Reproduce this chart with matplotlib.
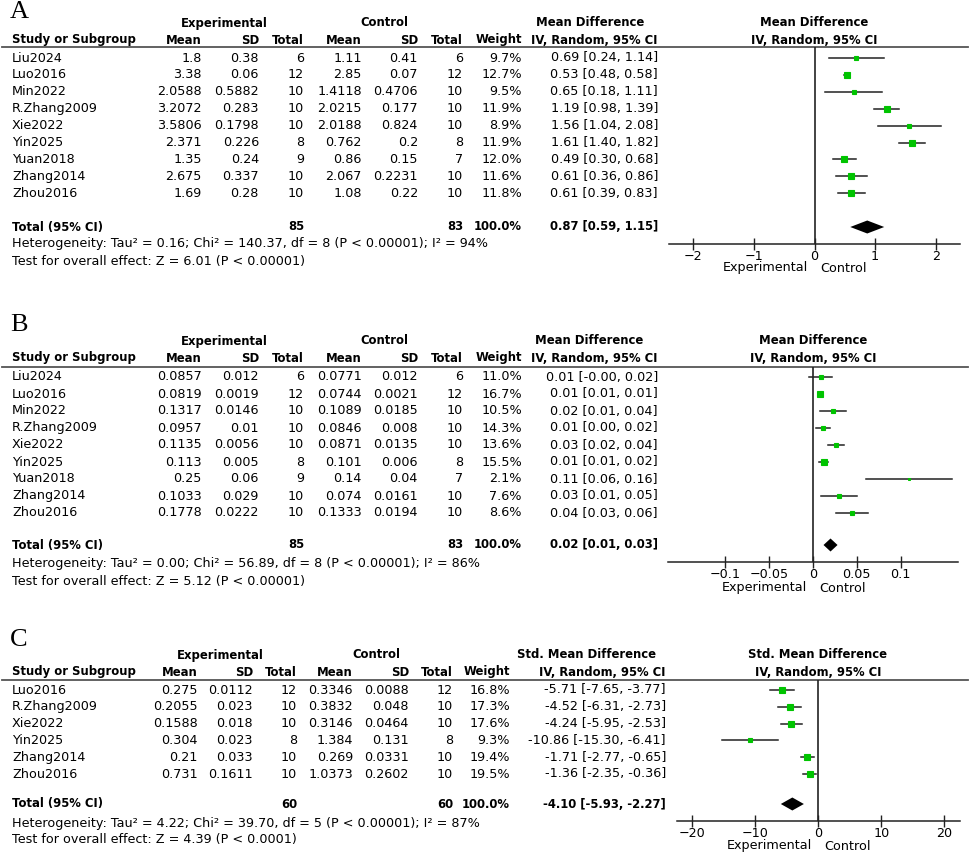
import matplotlib
matplotlib.use("Agg")
import matplotlib.pyplot as plt

# ---- data: panel A ----
a_study = ["Liu2024", "Luo2016", "Min2022", "R.Zhang2009", "Xie2022", "Yin2025", "Yuan2018", "Zhang2014", "Zhou2016"]
a_exp_mean = [1.8, 3.38, 2.0588, 3.2072, 3.5806, 2.371, 1.35, 2.675, 1.69]
a_exp_sd = [0.38, 0.06, 0.5882, 0.283, 0.1798, 0.226, 0.24, 0.337, 0.28]
a_exp_n = [6, 12, 10, 10, 10, 8, 9, 10, 10]
a_ctl_mean = [1.11, 2.85, 1.4118, 2.0215, 2.0188, 0.762, 0.86, 2.067, 1.08]
a_ctl_sd = [0.41, 0.07, 0.4706, 0.177, 0.824, 0.2, 0.15, 0.2231, 0.22]
a_ctl_n = [6, 12, 10, 10, 10, 8, 7, 10, 10]
a_weight = [9.7, 12.7, 9.5, 11.9, 8.9, 11.9, 12.0, 11.6, 11.8]
a_est = [0.69, 0.53, 0.65, 1.19, 1.56, 1.61, 0.49, 0.61, 0.61]
a_lo = [0.24, 0.48, 0.18, 0.98, 1.04, 1.40, 0.30, 0.36, 0.39]
a_hi = [1.14, 0.58, 1.11, 1.39, 2.08, 1.82, 0.68, 0.86, 0.83]
a_total = (85, 83, 0.87, 0.59, 1.15)
a_het = "Heterogeneity: Tau² = 0.16; Chi² = 140.37, df = 8 (P < 0.00001); I² = 94%"
a_test = "Test for overall effect: Z = 6.01 (P < 0.00001)"
a_ticks = [-2, -1, 0, 1, 2]
a_ticklabels = ["\u22122", "\u22121", "0", "1", "2"]

# ---- data: panel B ----
b_study = a_study
b_exp_mean = [0.0857, 0.0819, 0.1317, 0.0957, 0.1135, 0.113, 0.25, 0.1033, 0.1778]
b_exp_sd = [0.012, 0.0019, 0.0146, 0.01, 0.0056, 0.005, 0.06, 0.029, 0.0222]
b_exp_n = [6, 12, 10, 10, 10, 8, 9, 10, 10]
b_ctl_mean = [0.0771, 0.0744, 0.1089, 0.0846, 0.0871, 0.101, 0.14, 0.074, 0.1333]
b_ctl_sd = [0.012, 0.0021, 0.0185, 0.008, 0.0135, 0.006, 0.04, 0.0161, 0.0194]
b_ctl_n = [6, 12, 10, 10, 10, 8, 7, 10, 10]
b_weight = [11.0, 16.7, 10.5, 14.3, 13.6, 15.5, 2.1, 7.6, 8.6]
b_est = [0.0086, 0.0075, 0.0228, 0.0111, 0.0264, 0.012, 0.11, 0.0293, 0.0445]
b_lo = [-0.0049, 0.0059, 0.0082, 0.0032, 0.0173, 0.0066, 0.0609, 0.0087, 0.0262]
b_hi = [0.0222, 0.0091, 0.0374, 0.0190, 0.0355, 0.0174, 0.1591, 0.0499, 0.0628]
b_total = (85, 83, 0.020, 0.012, 0.028)
b_total_txt = "0.02 [0.01, 0.03]"
b_het = "Heterogeneity: Tau² = 0.00; Chi² = 56.89, df = 8 (P < 0.00001); I² = 86%"
b_test = "Test for overall effect: Z = 5.12 (P < 0.00001)"
b_ticks = [-0.1, -0.05, 0, 0.05, 0.1]
b_ticklabels = ["\u22120.1", "\u22120.05", "0", "0.05", "0.1"]

# ---- data: panel C ----
c_study = ["Luo2016", "R.Zhang2009", "Xie2022", "Yin2025", "Zhang2014", "Zhou2016"]
c_exp_mean = [0.275, 0.2055, 0.1588, 0.304, 0.21, 0.731]
c_exp_sd = [0.0112, 0.023, 0.018, 0.023, 0.033, 0.1611]
c_exp_n = [12, 10, 10, 8, 10, 10]
c_ctl_mean = [0.3346, 0.3832, 0.3146, 1.384, 0.269, 1.0373]
c_ctl_sd = [0.0088, 0.048, 0.0464, 0.131, 0.0331, 0.2602]
c_ctl_n = [12, 10, 10, 8, 10, 10]
c_weight = [16.8, 17.3, 17.6, 9.3, 19.4, 19.5]
c_est = [-5.71, -4.52, -4.24, -10.86, -1.71, -1.36]
c_lo = [-7.65, -6.31, -5.95, -15.30, -2.77, -2.35]
c_hi = [-3.77, -2.73, -2.53, -6.41, -0.65, -0.36]
c_total = (60, 60, -4.10, -5.93, -2.27)
c_het = "Heterogeneity: Tau² = 4.22; Chi² = 39.70, df = 5 (P < 0.00001); I² = 87%"
c_test = "Test for overall effect: Z = 4.39 (P < 0.0001)"
c_ticks = [-20, -10, 0, 10, 20]
c_ticklabels = ["\u221220", "\u221210", "0", "10", "20"]

FS = 9.2      # regular text
FSB = 8.4     # bold text
GREEN = "#00c400"
W, H = 969, 858

fig = plt.figure(figsize=(W / 100, H / 100), dpi=100)
bg = fig.add_axes([0, 0, 1, 1])
bg.set_xlim(0, W)
bg.set_ylim(H, 0)
bg.axis("off")


def txt(x, y, s, ha="left", bold=False):
    bg.text(x, y, s, ha=ha, va="center", fontsize=FSB if bold else FS, family="DejaVu Sans",
            fontweight="bold" if bold else "normal")


def fmt_ci(e, l, h):
    return "%.2f [%.2f, %.2f]" % (e, l, h)


def panel(lab, L, study, em, esd, en, cm, csd, cn, wt, est, lo, hi, total, het, test,
          ticks, ticklabels, eff_name, total_txt=None):
    bg.text(10, L["label_y"], lab, ha="left", va="center", fontsize=19, family="Liberation Serif")
    cols = L["cols"]
    # column headers
    txt(L["exp_c"], L["grp_y"], "Experimental", ha="center", bold=True)
    txt(L["ctl_c"], L["grp_y"], "Control", ha="center", bold=True)
    txt(L["eff_c"], L["grp_y"], eff_name, ha="center", bold=True)
    txt(L["plot_c"], L["grp_y"], eff_name, ha="center", bold=True)
    txt(12, L["hdr_y"], "Study or Subgroup", bold=True)
    for x, s in zip(cols, ["Mean", "SD", "Total", "Mean", "SD", "Total", "Weight", "IV, Random, 95% CI"]):
        txt(x, L["hdr_y"], s, ha="right", bold=True)
    txt(L["plot_c"], L["hdr_y"], "IV, Random, 95% CI", ha="center", bold=True)
    bg.plot([2, 968], [L["line_y"], L["line_y"]], color="#555555", lw=1.3)

    ys = [L["row0"] + i * L["step"] for i in range(len(study))]
    for i, y in enumerate(ys):
        txt(12, y, study[i])
        vals = [str(em[i]), str(esd[i]), str(en[i]), str(cm[i]), str(csd[i]), str(cn[i]),
                "%.1f%%" % wt[i], fmt_ci(est[i], lo[i], hi[i])]
        for x, s in zip(cols, vals):
            txt(x, y, s, ha="right")
    ty = L["total_y"]
    txt(12, ty, "Total (95% CI)", bold=True)
    txt(cols[2], ty, str(total[0]), ha="right", bold=True)
    txt(cols[5], ty, str(total[1]), ha="right", bold=True)
    txt(cols[6], ty, "100.0%", ha="right", bold=True)
    txt(cols[7], ty, total_txt or fmt_ci(*total[2:]), ha="right", bold=True)
    txt(12, L["het_y"], het)
    txt(12, L["test_y"], test)

    # forest plot axes, y in figure pixel units
    x0, x1 = L["plot_x"]
    ax = fig.add_axes([x0 / W, (H - L["axis_y"]) / H, (x1 - x0) / W, (L["axis_y"] - L["line_y"]) / H])
    ax.set_xlim(*L["xlim"])
    ax.set_ylim(L["axis_y"], L["line_y"])
    ax.patch.set_alpha(0)
    for sp in ["top", "left", "right"]:
        ax.spines[sp].set_visible(False)
    ax.spines["bottom"].set_linewidth(1.1)
    ax.spines["bottom"].set_color("#222222")
    ax.set_yticks([])
    ax.set_xticks(ticks)
    ax.set_xticklabels(ticklabels, fontsize=FS, family="DejaVu Sans")
    ax.tick_params(axis="x", direction="inout", length=9, width=1.0, pad=0, color="#222222")
    ax.axvline(0, color="#222222", lw=1.2)
    wmax = max(wt)
    for i, y in enumerate(ys):
        side = 5.4 * (wt[i] / wmax) ** 0.5
        ax.plot([lo[i], hi[i]], [y, y], color="#222222", lw=1.1, zorder=2)
        ax.plot([est[i]], [y], marker="s", ms=side * 0.72, color=GREEN, mec=GREEN, mew=0.8, zorder=3)
    e, l, h = total[2:]
    ax.fill([l, e, h, e], [ty, ty - 6.5, ty, ty + 6.5], color="black", lw=0, zorder=4)
    zx = x0 + (0 - L["xlim"][0]) / (L["xlim"][1] - L["xlim"][0]) * (x1 - x0)
    txt(zx - 6, L["ec_y"], "Experimental", ha="right")
    txt(zx + 6, L["ec_y"], "Control", ha="left")


LA = dict(label_y=12, grp_y=23, hdr_y=40, line_y=47, row0=58, step=16.9, total_y=227,
          het_y=244, test_y=261, axis_y=244, ec_y=268,
          cols=[202, 259, 304, 362, 418, 463, 522, 658], exp_c=224, ctl_c=384, eff_c=590,
          plot_c=814, plot_x=(669, 960), xlim=(-2.4, 2.4))
LB = dict(label_y=325, grp_y=341, hdr_y=358, line_y=367, row0=377, step=17, total_y=545,
          het_y=564, test_y=581, axis_y=562, ec_y=588,
          cols=[202, 259, 304, 362, 418, 463, 522, 658], exp_c=224, ctl_c=384, eff_c=589,
          plot_c=813, plot_x=(668, 958), xlim=(-0.1655, 0.1655))
LC = dict(label_y=640, grp_y=655, hdr_y=672, line_y=680, row0=690, step=16.8, total_y=804,
          het_y=823, test_y=839, axis_y=821, ec_y=846,
          cols=[198, 253, 297, 353, 409, 453, 510, 666], exp_c=220, ctl_c=376, eff_c=587,
          plot_c=818, plot_x=(677, 960), xlim=(-22.4, 22.5))

panel("A", LA, a_study, a_exp_mean, a_exp_sd, a_exp_n, a_ctl_mean, a_ctl_sd, a_ctl_n, a_weight,
      a_est, a_lo, a_hi, a_total, a_het, a_test, a_ticks, a_ticklabels, "Mean Difference")
panel("B", LB, b_study, b_exp_mean, b_exp_sd, b_exp_n, b_ctl_mean, b_ctl_sd, b_ctl_n, b_weight,
      b_est, b_lo, b_hi, b_total, b_het, b_test, b_ticks, b_ticklabels, "Mean Difference", b_total_txt)
panel("C", LC, c_study, c_exp_mean, c_exp_sd, c_exp_n, c_ctl_mean, c_ctl_sd, c_ctl_n, c_weight,
      c_est, c_lo, c_hi, c_total, c_het, c_test, c_ticks, c_ticklabels, "Std. Mean Difference")

fig.savefig("out.png", dpi=100)
